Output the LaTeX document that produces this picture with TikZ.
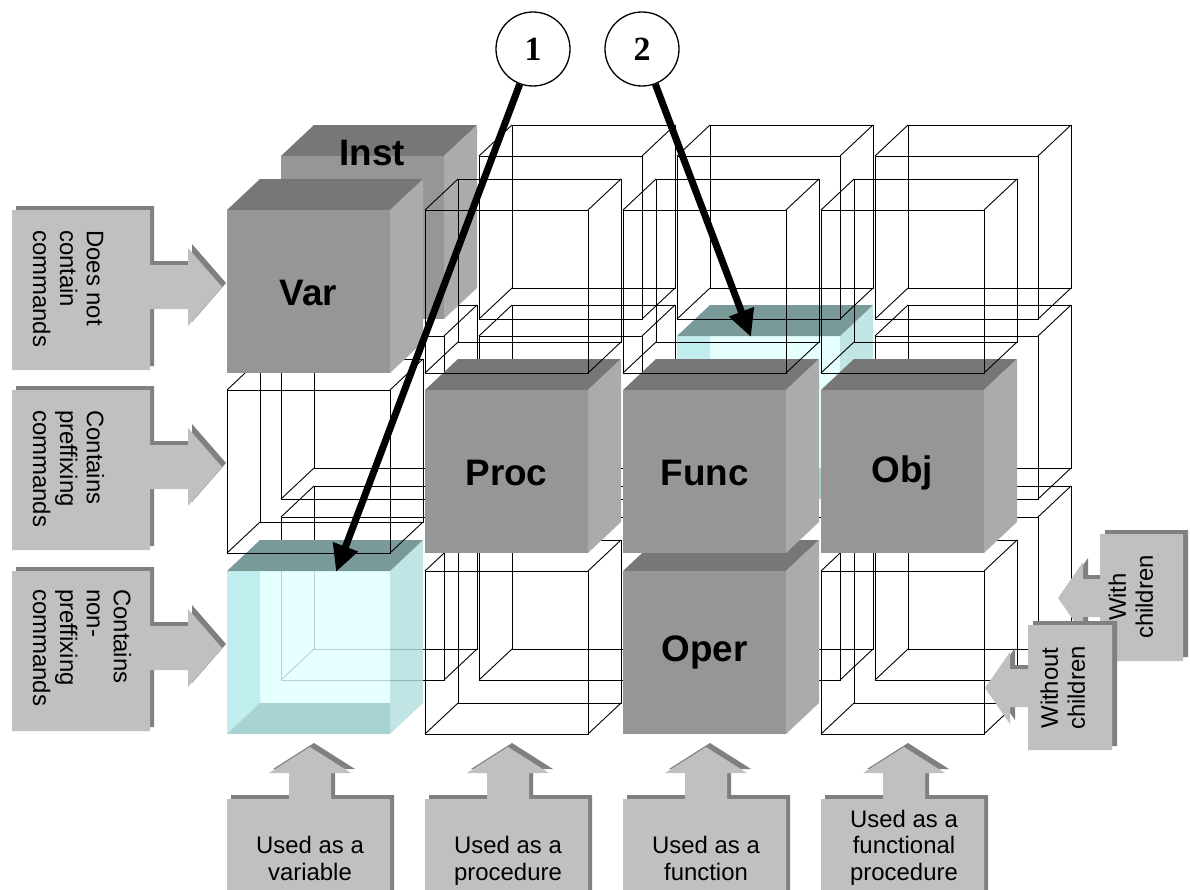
\documentclass[tikz,border=0pt]{standalone}
\usepackage{fontspec}
\setmainfont{Liberation Sans}
\newfontfamily\numfont{Liberation Serif}
\usetikzlibrary{arrows.meta}
\definecolor{cfront}{HTML}{969696}
\definecolor{ctop}{HTML}{777777}
\definecolor{cside}{HTML}{ABABAB}
\definecolor{lbl}{HTML}{C0C0C0}
\definecolor{lblsh}{HTML}{808080}
\definecolor{qtop}{HTML}{7A9A9A}
\definecolor{qside}{HTML}{B3DEDE}
\definecolor{qfront}{HTML}{E0FFFF}
\definecolor{qwall}{HTML}{B8EAEA}
\definecolor{qfloor}{HTML}{9CCACA}
\tikzset{
  wire/.style={draw=black, line width=0.9bp},
  cubelabel/.style={font=\fontsize{37}{40}\selectfont\bfseries, inner sep=0pt},
  lbltext/.style={font=\fontsize{24}{27}\selectfont, inner sep=0pt, text depth=0pt},
  circ/.style={circle, draw, line width=1.3bp, minimum size=74bp, inner sep=0pt,
    font=\numfont\bfseries\fontsize{34}{36}\selectfont},
  bigarrow/.style={line width=7bp, -{Triangle[length=27bp,width=25bp]}},
}
\newcommand\WireCube[2]{%
  \draw[wire] (#1,#2) rectangle (#1+163,#2+163);
  \draw[wire] (#1+33,#2-31) rectangle (#1+196,#2+132);
  \draw[wire] (#1,#2) -- (#1+33,#2-31)
              (#1+163,#2) -- (#1+196,#2-31)
              (#1,#2+163) -- (#1+33,#2+132)
              (#1+163,#2+163) -- (#1+196,#2+132);}
\newcommand\SolidCube[2]{%
  \fill[ctop] (#1,#2) -- (#1+33,#2-31) -- (#1+196,#2-31) -- (#1+163,#2) -- cycle;
  \fill[cside] (#1+163,#2) -- (#1+196,#2-31) -- (#1+196,#2+132) -- (#1+163,#2+163) -- cycle;
  \fill[cfront] (#1,#2) rectangle (#1+163,#2+163);}
\newcommand\GlassCube[2]{%
  \begin{scope}[fill opacity=0.82]
  \fill[qside] (#1+163,#2) -- (#1+196,#2-31) -- (#1+196,#2+132) -- (#1+163,#2+163) -- cycle;
  \fill[qfront] (#1,#2) rectangle (#1+163,#2+163);
  \fill[qwall] (#1,#2) -- (#1+33,#2) -- (#1+33,#2+132) -- (#1,#2+163) -- cycle;
  \fill[qfloor] (#1,#2+163) -- (#1+33,#2+132) -- (#1+163,#2+132) -- (#1+163,#2+163) -- cycle;
  \end{scope}
  \fill[qtop] (#1,#2) -- (#1+33,#2-31) -- (#1+196,#2-31) -- (#1+163,#2) -- cycle;}
% left label: #1 = row top
\newcommand\LeftShape[1]{%
  (12,#1) -- (150,#1) -- (150,#1+55) -- (188,#1+55) -- (188,#1+38) -- (222,#1+77)
  -- (188,#1+116) -- (188,#1+99) -- (150,#1+99) -- (150,#1+160) -- (12,#1+160) -- cycle}
% bottom label: #1 = column left
\newcommand\BottomShape[1]{%
  (#1,900) -- (#1,799) -- (#1+62,799) -- (#1+62,773) -- (#1+42,773) -- (#1+83,747)
  -- (#1+124,773) -- (#1+104,773) -- (#1+104,799) -- (#1+163,799) -- (#1+163,900) -- cycle}
\begin{document}
\begin{tikzpicture}[x=1bp,y=-1bp]
\useasboundingbox (0,0) rectangle (1190,890);
\clip (0,0) rectangle (1190,890);
% ---- row 3 ----
\WireCube{281}{517}\WireCube{479}{517}\WireCube{677}{517}\WireCube{875}{517}
\GlassCube{227}{571}
\WireCube{425}{571}
\SolidCube{623}{571}
\node[cubelabel] (oper) at (704.5,652.5) {Oper};
\WireCube{821}{571}
% ---- row 2 ----
\WireCube{281}{336}\WireCube{479}{336}
\GlassCube{677}{336}
\WireCube{875}{336}
\WireCube{227}{390}
\SolidCube{425}{390}
\node[cubelabel] (proc) at (506.5,472.5) {Proc};
\SolidCube{623}{390}
\node[cubelabel] (func) at (704.5,472.5) {Func};
\SolidCube{821}{390}
\node[cubelabel] (obj) at (902.5,472.5) {Obj};
% ---- row 1 ----
\SolidCube{281}{156}
\node[cubelabel] (inst) at (372,153) {Inst};
\WireCube{479}{156}\WireCube{677}{156}\WireCube{875}{156}
\SolidCube{227}{210}
\node[cubelabel] (var) at (308.5,292.5) {Var};
\WireCube{425}{210}\WireCube{623}{210}\WireCube{821}{210}
% ---- pointers ----
\coordinate (t1) at (336,572);
\coordinate (t2) at (751,337);
\node[circ] (c1) at (533,49) {1};
\node[circ] (c2) at (642,49) {2};
\draw[bigarrow] (c1) -- (t1);
\draw[bigarrow] (c2) -- (t2);
% ---- left labels ----
\foreach \t in {210,390,571}{
  \fill[lblsh] [shift={(4,-4)}] \LeftShape{\t};
  \fill[lbl] \LeftShape{\t};
}
\node[lbltext, rotate=-90, anchor=south west, align=left] (l1) at (33,230) {Does not\\contain\\commands};
\node[lbltext, rotate=-90, anchor=south west, align=left] (l2) at (33,410) {Contains\\preffixing\\commands};
\node[lbltext, rotate=-90, anchor=south west, align=left] (l3) at (33,589) {Contains\\non-\\preffixing\\commands};
% ---- bottom labels ----
\foreach \c in {227,425,623,821}{
  \fill[lblsh] [shift={(4,-4)}] \BottomShape{\c};
  \fill[lbl] \BottomShape{\c};
}
\node[lbltext, anchor=south, align=center] (b1) at (310,881) {Used as a\\variable};
\node[lbltext, anchor=south, align=center] (b2) at (508,881) {Used as a\\procedure};
\node[lbltext, anchor=south, align=center] (b3) at (706,881) {Used as a\\function};
\node[lbltext, anchor=south, align=center] (b4) at (904,881) {Used as a\\functional\\procedure};
% ---- right labels ----
\fill[lblsh] [shift={(5,-4)}] (1183,534) -- (1100,534) -- (1100,579) -- (1083,579) -- (1083,562) -- (1058,598) -- (1083,634) -- (1083,617) -- (1100,617) -- (1100,661) -- (1183,661) -- cycle;
\fill[lbl] (1183,534) -- (1100,534) -- (1100,579) -- (1083,579) -- (1083,562) -- (1058,598) -- (1083,634) -- (1083,617) -- (1100,617) -- (1100,661) -- (1183,661) -- cycle;
\node[lbltext, rotate=90, anchor=south, align=center] (r1) at (1153,597) {With\\children};
\fill[lblsh] [shift={(5,-4)}] (1112,625) -- (1028,625) -- (1028,669) -- (1010,669) -- (1010,652) -- (985,688) -- (1010,724) -- (1010,707) -- (1028,707) -- (1028,750) -- (1112,750) -- cycle;
\fill[lbl] (1112,625) -- (1028,625) -- (1028,669) -- (1010,669) -- (1010,652) -- (985,688) -- (1010,724) -- (1010,707) -- (1028,707) -- (1028,750) -- (1112,750) -- cycle;
\node[lbltext, rotate=90, anchor=south, align=center] (r2) at (1085,688) {Without\\children};
\end{tikzpicture}
\end{document}
